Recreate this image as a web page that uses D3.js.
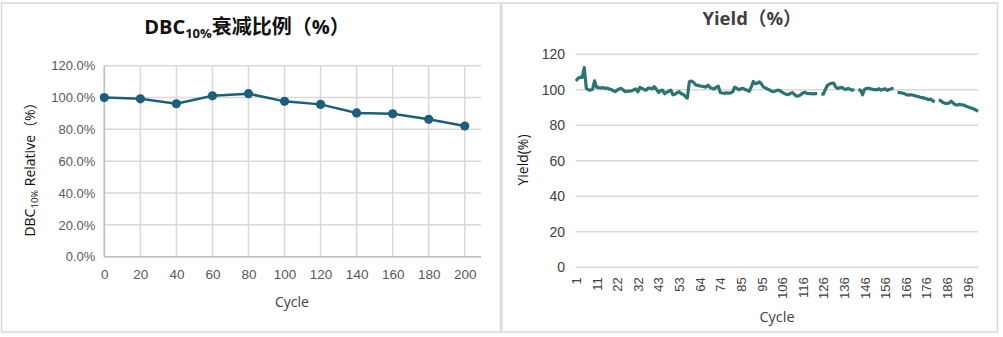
<!DOCTYPE html>
<html>
<head>
<meta charset="utf-8">
<script src="https://cdn.jsdelivr.net/npm/d3@7"></script>
<style>
  html, body { margin: 0; padding: 0; background: #fff; }
  svg { display: block; font-family: "Open Sans", "Noto Sans", "Noto Sans CJK SC", sans-serif; }
</style>
</head>
<body>
<svg id="chart" width="1003" height="337"></svg>
<script>
// DBC10% relative capacity over cycles
const dbcCycles = [0, 20, 40, 60, 80, 100, 120, 140, 160, 180, 200];
const dbcValues = [100.0, 99.2, 96.1, 101.1, 102.4, 97.6, 95.7, 90.3, 89.8, 86.3, 82.1];
const dbcYTicks = [0, 20, 40, 60, 80, 100, 120];

// Yield per cycle (null = not recorded)
const yieldCycles = [
  1, 2, 3, 4, 5, 6, 7, 8, 9, 10, 11, 12, 13, 14, 15, 17, 18, 19, 20, 21,
  22, 23, 24, 25, 26, 27, 28, 29, 30, 31, 32, 33, 34, 35, 36, 38, 39, 40, 41, 42,
  43, 44, 45, 46, 47, 48, 49, 50, 51, 52, 53, 54, 55, 56, 57, 59, 60, 61, 62, 63,
  64, 65, 66, 67, 68, 69, 70, 71, 72, 73, 74, 75, 76, 77, 78, 80, 81, 82, 83, 84,
  85, 86, 87, 88, 89, 90, 91, 92, 93, 94, 95, 96, 97, 98, 99, 101, 102, 103, 104, 105,
  106, 107, 108, 109, 110, 111, 112, 113, 114, 115, 116, 117, 118, 119, 120, 121, 122, 123, 124, 125,
  126, 127, 128, 129, 130, 131, 132, 133, 134, 135, 136, 137, 138, 139, 140, 141, 142, 143, 144, 145,
  146, 147, 148, 149, 150, 151, 152, 153, 154, 155, 156, 157, 158, 159, 160, 161, 162, 163, 164, 165,
  166, 167, 168, 169, 170, 171, 172, 173, 174, 175, 176, 177, 178, 179, 180, 181, 182, 183, 184, 185,
  186, 187, 188, 189, 190, 191, 192, 193, 194, 195, 196, 197, 198, 199, 200, 201
];
const yieldValues = [
  105.0, 106.5, 107.0, 107.0, 112.5, 100.8, 100.0, 99.8, 100.3, 105.0,
  101.5, 101.2, 101.0, 101.3, 100.8, 101.0, 100.5, 100.2, 99.5, 99.0,
  99.8, 100.6, 100.8, 99.8, 99.0, 99.2, 99.3, 99.4, 100.0, 100.5,
  98.8, 101.3, 100.8, 100.2, 99.8, 101.0, 100.8, 100.5, 101.8, 100.2,
  98.5, 99.5, 99.8, 97.8, 98.5, 99.2, 99.8, 97.2, 97.5, 98.4,
  99.0, 97.8, 97.5, 96.2, 95.3, 104.7, 104.9, 104.2, 102.8, 102.5,
  102.2, 102.0, 101.8, 101.5, 102.6, 101.3, 100.8, 100.4, 101.5, 102.0,
  98.5, 98.2, 98.0, 98.3, 98.1, 98.2, 98.9, 101.5, 100.8, 100.0,
  100.6, 100.8, 100.2, 99.8, 99.2, 101.5, 104.7, 103.4, 103.8, 104.5,
  103.2, 101.5, 101.0, 100.4, 99.8, 99.2, 99.0, 99.5, 99.8, 99.4,
  98.6, 98.0, 97.4, 97.3, 98.0, 98.4, 97.4, 96.4, 96.6, 97.2,
  98.2, 98.6, 98.0, 97.8, 97.8, 97.7, 97.8, 97.8, null, 97.7,
  97.6, 100.3, 102.5, 103.3, 103.7, 103.8, 101.5, 100.8, 101.2, 101.4,
  100.6, 100.2, 100.8, 100.2, 99.8, 100.2, null, 100.2, 99.8, 97.2,
  100.3, 100.8, 100.8, 100.5, 100.2, 100.1, 100.0, 100.6, 99.8, 100.3,
  100.5, 99.7, 100.2, 100.6, 101.0, null, 98.5, 98.4, 98.2, 98.0,
  97.4, 97.0, 97.2, 97.1, 96.8, 96.4, 96.2, 95.8, 95.6, 95.3,
  95.0, 94.4, 94.8, 93.8, 93.3, null, 94.4, 93.8, 92.8, 92.4,
  92.3, 92.6, 93.6, 92.5, 91.6, 91.4, 91.8, 91.6, 91.4, 90.9,
  90.4, 90.0, 89.6, 89.2, 88.6, 87.8
];
const yieldYTicks = [0, 20, 40, 60, 80, 100, 120];
const yieldLabelEvery = 10;

const svg = d3.select("#chart");
const gridColor = "#d9d9d9";
const tickColor = "#595959";

// panel frames
svg.append("rect").attr("x", 1.5).attr("y", 3).attr("width", 499).attr("height", 329)
  .attr("fill", "none").attr("stroke", gridColor).attr("stroke-width", 1.5);
svg.append("rect").attr("x", 502).attr("y", 3).attr("width", 495.5).attr("height", 329)
  .attr("fill", "none").attr("stroke", gridColor).attr("stroke-width", 1.5);

// ---------- left panel: DBC10% ----------
{
  const x = d3.scaleLinear().domain([0, 209]).range([104.3, 481]);
  const y = d3.scaleLinear().domain([0, 120]).range([256.7, 65.7]);
  const g = svg.append("g");

  // horizontal grid
  g.append("g").selectAll("line").data(dbcYTicks).join("line")
    .attr("x1", x(0)).attr("x2", x(209))
    .attr("y1", d => y(d)).attr("y2", d => y(d))
    .attr("stroke", gridColor).attr("stroke-width", 1.5);
  // vertical grid
  g.append("g").selectAll("line").data(dbcCycles).join("line")
    .attr("x1", d => x(d)).attr("x2", d => x(d))
    .attr("y1", y(120)).attr("y2", y(0))
    .attr("stroke", gridColor).attr("stroke-width", 1.5);
  // axis lines
  g.append("line").attr("x1", x(0)).attr("x2", x(209)).attr("y1", y(0)).attr("y2", y(0))
    .attr("stroke", "#bfbfbf").attr("stroke-width", 1.5);
  g.append("line").attr("x1", x(0)).attr("x2", x(0)).attr("y1", y(120)).attr("y2", y(0))
    .attr("stroke", "#bfbfbf").attr("stroke-width", 1.5);

  const yAxis = d3.axisLeft(y).tickValues(dbcYTicks).tickSize(0).tickPadding(9)
    .tickFormat(d => d.toFixed(1) + "%");
  g.append("g").attr("transform", `translate(${x(0)},0)`).call(yAxis)
    .call(s => s.select(".domain").remove())
    .selectAll("text").attr("fill", tickColor).style("font-size", "13px");

  const xAxis = d3.axisBottom(x).tickValues(dbcCycles).tickSize(0).tickPadding(13);
  g.append("g").attr("transform", `translate(0,${y(0)})`).call(xAxis)
    .call(s => s.select(".domain").remove())
    .selectAll("text").attr("fill", tickColor).style("font-size", "13.5px");

  const pts = dbcCycles.map((c, i) => [c, dbcValues[i]]);
  g.append("path").datum(pts)
    .attr("fill", "none").attr("stroke", "#1c5f7c").attr("stroke-width", 2.5)
    .attr("d", d3.line().x(d => x(d[0])).y(d => y(d[1])));
  g.append("g").selectAll("circle").data(pts).join("circle")
    .attr("cx", d => x(d[0])).attr("cy", d => y(d[1])).attr("r", 4.6)
    .attr("fill", "#1c5f7c");

  // title
  const t = g.append("text").attr("x", 247).attr("y", 34).attr("text-anchor", "middle")
    .style("font-size", "20px").style("font-weight", "bold").attr("fill", "#111");
  t.append("tspan").text("DBC");
  t.append("tspan").attr("dy", 4).style("font-size", "13px").text("10%");
  t.append("tspan").attr("dy", -4).text("衰减比例（%）");

  // axis titles
  g.append("text").attr("x", 292).attr("y", 307).attr("text-anchor", "middle")
    .style("font-size", "14px").attr("fill", "#404040").text("Cycle");
  const yl = g.append("text").attr("transform", "translate(35,166) rotate(-90)")
    .attr("text-anchor", "middle").style("font-size", "14px").attr("fill", "#111");
  yl.append("tspan").text("DBC");
  yl.append("tspan").attr("dy", 3).style("font-size", "9.5px").text("10%");
  yl.append("tspan").attr("dy", -3).text(" Relative（%）");
}

// ---------- right panel: Yield ----------
{
  const x = d3.scalePoint().domain(yieldCycles).range([576, 978]);
  const y = d3.scaleLinear().domain([0, 120]).range([267.3, 54.3]);
  const g = svg.append("g");

  g.append("g").selectAll("line").data(yieldYTicks).join("line")
    .attr("x1", 576).attr("x2", 978)
    .attr("y1", d => y(d)).attr("y2", d => y(d))
    .attr("stroke", gridColor).attr("stroke-width", 1.5);

  const yAxis = d3.axisLeft(y).tickValues(yieldYTicks).tickSize(0).tickPadding(11);
  g.append("g").attr("transform", "translate(576,0)").call(yAxis)
    .call(s => s.select(".domain").remove())
    .selectAll("text").attr("fill", "#404040").style("font-size", "14px");

  const labelCycles = yieldCycles.filter((c, i) => i % yieldLabelEvery === 0);
  const xAxis = d3.axisBottom(x).tickValues(labelCycles).tickSize(0);
  g.append("g").attr("transform", `translate(0,${y(0)})`).call(xAxis)
    .call(s => s.select(".domain").remove())
    .selectAll("text")
    .attr("fill", "#404040").style("font-size", "13px")
    .attr("text-anchor", "end")
    .attr("dy", null)
    .attr("transform", "translate(0,10) rotate(-90)")
    .attr("x", 0).attr("y", 0).attr("dominant-baseline", "central");

  const pts = yieldCycles.map((c, i) => [c, yieldValues[i]]);
  g.append("path").datum(pts)
    .attr("fill", "none").attr("stroke", "#2a7473").attr("stroke-width", 3.2)
    .attr("stroke-linejoin", "round")
    .attr("d", d3.line().defined(d => d[1] != null).x(d => x(d[0])).y(d => y(d[1])));

  g.append("text").attr("x", 752).attr("y", 25).attr("text-anchor", "middle")
    .style("font-size", "18.5px").style("font-weight", "bold").attr("fill", "#404040")
    .text("Yield（%）");
  g.append("text").attr("x", 777).attr("y", 322).attr("text-anchor", "middle")
    .style("font-size", "14.5px").attr("fill", "#404040").text("Cycle");
  g.append("text").attr("transform", "translate(528,160) rotate(-90)")
    .attr("text-anchor", "middle").style("font-size", "14px").attr("fill", "#111")
    .text("Yield(%)");
}
</script>
</body>
</html>
